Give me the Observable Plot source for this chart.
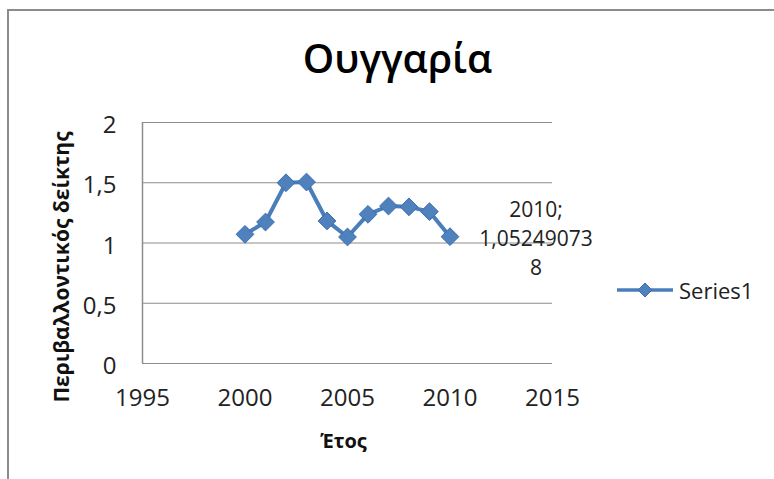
<!DOCTYPE html>
<html><head><meta charset="utf-8">
<script src="https://cdn.jsdelivr.net/npm/d3@7"></script>
<script src="https://cdn.jsdelivr.net/npm/@observablehq/plot@0.6"></script>
<style>
body{margin:0;background:#fff;}
#wrap{position:relative;width:774px;height:479px;overflow:hidden;font-family:'Open Sans',sans-serif;background:#fff;}
#wrap svg.plot{position:absolute;left:0;top:0;}
#border{position:absolute;left:7px;top:9px;width:800px;height:500px;border:2px solid #8c8c8c;box-sizing:border-box;}
#legend{position:absolute;left:617px;top:276px;display:flex;align-items:center;font-size:22px;color:#222;line-height:28px;}
#legend span{margin-left:6px;}
</style></head><body>
<div id="wrap"><div id="border"></div></div>
<script>
const years = [2000, 2001, 2002, 2003, 2004, 2005, 2006, 2007, 2008, 2009, 2010];
const values = [1.072, 1.174, 1.50, 1.506, 1.183, 1.05, 1.238, 1.307, 1.30, 1.26, 1.052490738];
const xTicks = [1995, 2000, 2005, 2010, 2015];
const yTicks = [0, 0.5, 1, 1.5, 2];
const title = "Ουγγαρία";
const xLabel = "Έτος";
const yLabel = "Περιβαλλοντικός δείκτης";
const seriesName = "Series1";

const lineColor = "#4a7ebb";
const data = years.map((year, i) => ({year, value: values[i]}));
const last = data[data.length - 1];
const valStr = String(last.value).replace(".", ",");
const pointLabel = `${last.year};\n${valStr.slice(0, 10)}\n${valStr.slice(10)}`;
const fmtX = d => String(d);
const fmtY = d => String(d).replace(".", ",");

const chart = Plot.plot({
  width: 774, height: 479,
  marginLeft: 142, marginRight: 222, marginTop: 122, marginBottom: 116,
  style: {fontFamily: "'Open Sans', sans-serif", fontSize: "24px", color: "#222", background: "transparent"},
  x: {domain: [1995, 2015], ticks: xTicks, tickFormat: fmtX},
  y: {domain: [0, 2], ticks: yTicks, tickFormat: fmtY},
  marks: [
    Plot.gridY(yTicks, {stroke: "#8c8c8c", strokeOpacity: 1, strokeWidth: 1.2}),
    Plot.ruleX([1995], {stroke: "#8c8c8c", strokeWidth: 1.5}),
    Plot.axisX(xTicks, {tickSize: 0, tickPadding: 25, label: null, tickFormat: fmtX}),
    Plot.axisY(yTicks, {tickSize: 0, tickPadding: 26, label: null, dy: 3, tickFormat: fmtY}),
    Plot.line(data, {x: "year", y: "value", stroke: lineColor, strokeWidth: 4}),
    Plot.dot(data, {x: "year", y: "value", symbol: "diamond2", r: 8, fill: "#4f81bd", stroke: "#3d6eaf", strokeWidth: 1}),
    Plot.text([last], {x: "year", y: "value", text: () => pointLabel, dx: 86, lineHeight: 1.4, fontSize: 21, textAnchor: "middle", fill: "#222"}),
    Plot.text([title], {frameAnchor: "top", text: d => d, dx: 50, dy: -50, lineAnchor: "bottom", fontSize: 40, fontWeight: 600, fill: "#000"}),
    Plot.text([yLabel], {frameAnchor: "left", text: d => d, rotate: -90, textAnchor: "middle", dx: -80, dy: 24, fontSize: 21, fontWeight: "bold", fill: "#111"}),
    Plot.text([xLabel], {frameAnchor: "bottom", text: d => d, dx: -4, dy: 84, fontSize: 20, fontWeight: "bold", fill: "#111"})
  ]
});
chart.classList.add("plot");
document.getElementById("wrap").appendChild(chart);

const legend = document.createElement("div");
legend.id = "legend";
legend.innerHTML = `<svg width="56" height="20"><line x1="0" x2="56" y1="10" y2="10" stroke="${lineColor}" stroke-width="3.5"/><path d="M28,3L35,10L28,17L21,10Z" fill="#4f81bd" stroke="#3d6eaf"/></svg><span></span>`;
legend.querySelector("span").textContent = seriesName;
document.getElementById("wrap").appendChild(legend);
</script>
</body></html>
